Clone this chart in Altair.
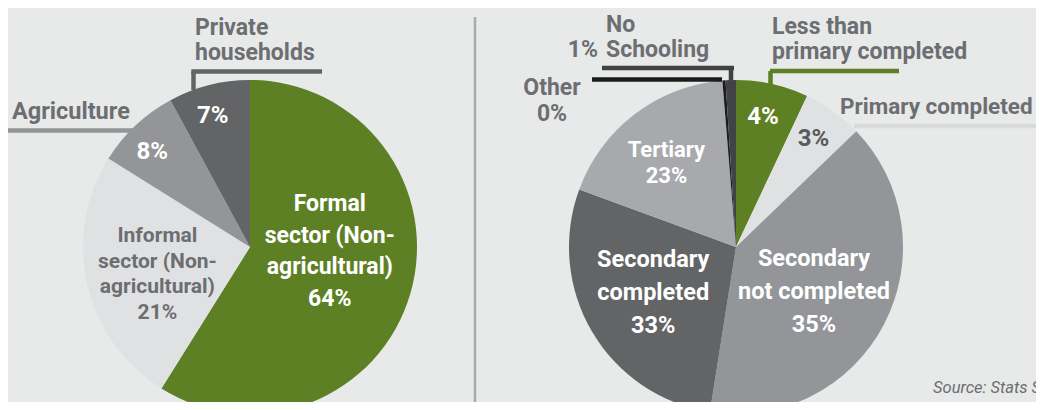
import altair as alt
import pandas as pd

# ---------------- data ----------------
left_categories = ["Formal\nsector (Non-\nagricultural)", "Informal\nsector (Non-\nagricultural)",
                   "Agriculture", "Private\nhouseholds"]
left_pct = ["64%", "21%", "8%", "7%"]
left_share = [58.9, 25.0, 8.2, 7.9]          # slice sizes as drawn

right_categories = ["Less than\nprimary completed", "Primary completed", "Secondary\nnot completed",
                    "Secondary\ncompleted", "Tertiary", "Other", "No\nSchooling"]
right_pct = ["4%", "3%", "35%", "33%", "23%", "0%", "1%"]
right_share = [7.0, 5.8, 39.7, 28.1, 18.1, 0.3, 1.0]   # slice sizes as drawn

source_text = "Source: Stats SA"

# ---------------- styles ----------------
BG = "#e8e9e9"
GREEN = "#5e8024"
LIGHT = "#e0e1e2"
MID = "#939598"
DARK = "#636466"
TERT = "#a7a9ac"
BLACK = "#1c1c1c"
NOSCH = "#414244"
TXT = "#6d6e71"
WHITE = "#ffffff"
FONT = "Roboto"

left_colors = [GREEN, LIGHT, MID, DARK]
right_colors = [GREEN, LIGHT, MID, DARK, TERT, BLACK, NOSCH]

R = 167
LCX, LCY = 242, 239
RCX, RCY = 728, 239
THETA = alt.Scale(domain=[0, 100])


def pie_df(cats, pct, share, colors):
    return pd.DataFrame({"idx": list(range(len(cats))), "name": cats, "pct": pct,
                         "share": share, "color": colors})


ldf = pie_df(left_categories, left_pct, left_share, left_colors)
rdf = pie_df(right_categories, right_pct, right_share, right_colors)


def base(df):
    return (alt.Chart(df)
            .transform_window(cum="sum(share)", sort=[alt.SortField("idx")], frame=[None, 0])
            .transform_calculate(start="datum.cum - datum.share",
                                 mid="datum.cum - datum.share / 2"))


def arcs(df, cx, cy):
    return base(df).mark_arc(radius=R, clip=True).encode(
        theta=alt.Theta("start:Q", scale=THETA),
        theta2="cum:Q",
        color=alt.Color("color:N", scale=None),
        x=alt.value(cx), y=alt.value(cy),
    )


def inner(df, cx, cy, i, expr, radius, size, color, lh=28, dx=0, dy=0):
    return (base(df)
            .transform_filter(f"datum.idx == {i}")
            .transform_calculate(label=expr)
            .mark_text(radius=radius, fontSize=size, color=color, font=FONT, fontWeight="bold",
                       lineBreak="\n", lineHeight=lh, dx=dx, dy=dy, align="center", baseline="middle")
            .encode(theta=alt.Theta("mid:Q", scale=THETA), text="label:N",
                    x=alt.value(cx), y=alt.value(cy)))


NAME_PCT = "datum.name + '\\n' + datum.pct"
PCT = "datum.pct"


def ann(text, x, y, size=23, align="left", color=TXT, style="normal", weight="bold"):
    return alt.Chart(pd.DataFrame({"t": [text]})).mark_text(
        fontSize=size, color=color, font=FONT, fontWeight=weight, fontStyle=style,
        align=align, baseline="middle",
    ).encode(text="t:N", x=alt.value(x), y=alt.value(y))


def ann_lines(text, x, ys, **kw):
    return [ann(line, x, y, **kw) for line, y in zip(text.split("\n"), ys)]


def rule(x, x2, y, y2, color, w=4.5):
    return alt.Chart(pd.DataFrame({"a": [0]})).mark_rule(
        color=color, strokeWidth=w, strokeCap="butt").encode(
        x=alt.value(x), x2=alt.value(x2), y=alt.value(y), y2=alt.value(y2))


layers = [
    arcs(ldf, LCX, LCY),
    arcs(rdf, RCX, RCY),
    # left inner labels (first line anchored)
    inner(ldf, LCX, LCY, 0, NAME_PCT, 83, 23, WHITE, lh=31.7, dy=-66),
    inner(ldf, LCX, LCY, 1, NAME_PCT, 95, 21, TXT, lh=25.5, dy=-32),
    inner(ldf, LCX, LCY, 2, PCT, 137, 24, WHITE, dx=-4, dy=5),
    inner(ldf, LCX, LCY, 3, PCT, 135, 24, WHITE, dx=-4),
    # right inner labels
    inner(rdf, RCX, RCY, 0, PCT, 133, 24, WHITE, dx=-2),
    inner(rdf, RCX, RCY, 1, PCT, 133, 24, "#58595b"),
    inner(rdf, RCX, RCY, 2, NAME_PCT, 88, 23.5, WHITE, lh=33, dy=-28.5),
    inner(rdf, RCX, RCY, 3, NAME_PCT, 96, 23.5, WHITE, lh=33, dy=-36),
    inner(rdf, RCX, RCY, 4, NAME_PCT, 110, 22, WHITE, lh=26, dx=-3, dy=-9),
    # left outside labels and leaders
    rule(0, 125, 122.5, 122.5, MID),
    ann(left_categories[2], 4, 104, size=23.5),
    rule(183.3, 314, 63.5, 63.5, DARK),
    rule(185.5, 185.5, 63.5, 82, DARK),
    *ann_lines(left_categories[3], 187, [19.5, 45]),
    # right outside labels and leaders
    rule(594, 726, 60, 60, NOSCH),
    rule(723, 723, 60, 84, NOSCH),
    *ann_lines(right_categories[6], 598, [16.5, 42]),
    ann(right_pct[6], 590, 42, align="right"),
    rule(584, 714, 71.5, 71.5, BLACK),
    ann(right_categories[5], 544, 80, align="center"),
    ann(right_pct[5], 544, 106, align="center"),
    rule(762, 891, 63, 63, GREEN),
    rule(762.5, 762.5, 63, 80, GREEN),
    *ann_lines(right_categories[0], 764, [18.5, 44]),
    rule(846, 1040, 118, 118, "#d9dadc"),
    ann(right_categories[1], 832, 99, size=22.5),
    # divider and source
    rule(467, 467, 9, 394, "#a5adb4", w=2.5),
    ann(source_text, 925, 380, size=16.5, style="italic", weight="normal"),
]

chart = alt.layer(*layers).properties(
    width=1028, height=394, padding=0,
    autosize=alt.AutoSizeParams(type="none"),
    background=BG,
).configure_view(stroke=None)

chart.save("out.html", embed_options={"renderer": "svg", "actions": False})
